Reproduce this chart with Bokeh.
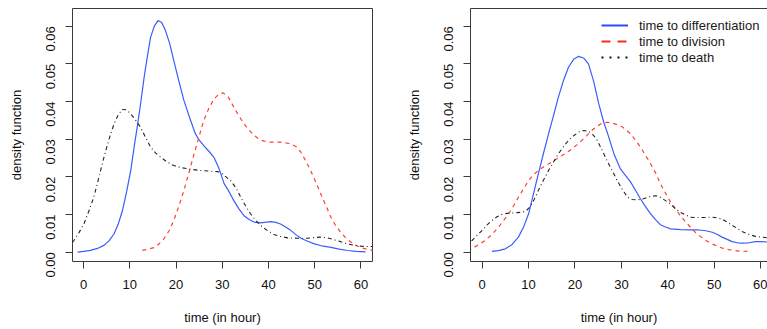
import math
from bokeh.plotting import figure
from bokeh.models import Range1d, FixedTicker, NumeralTickFormatter, Legend, LegendItem, LinearAxis
from bokeh.layouts import row
from bokeh.embed import file_html
from bokeh.resources import INLINE

# ---------------- data ----------------
x_ticks = [0, 10, 20, 30, 40, 50, 60]
y_ticks = [0.0, 0.01, 0.02, 0.03, 0.04, 0.05, 0.06]

# left panel
diff1_x = [-1.3, 0, 1.5, 3, 4.4, 5.5, 6.6, 7.5, 8.4, 9.3, 10.2, 11, 11.6, 12.4, 13.1, 13.8, 14.5, 15.3,
           16.1, 16.9, 17.7, 18.6, 19.5, 20.6, 21.7, 23, 24.2, 25.1, 26, 27.1, 28.2, 29.3, 30.4, 31.5,
           32.5, 33.6, 34.7, 35.8, 36.9, 38.3, 39.5, 40.5, 41.6, 42.6, 43.7, 44.8, 46, 47, 48.5, 49.9,
           51.5, 53.5, 55.3, 57.1, 59, 61]
diff1_y = [0, 0.0002, 0.0005, 0.001, 0.0018, 0.003, 0.0049, 0.0075, 0.011, 0.016, 0.0217, 0.0285,
           0.0332, 0.040, 0.0465, 0.052, 0.0571, 0.0600, 0.0615, 0.0610, 0.0589, 0.0555, 0.0509,
           0.0455, 0.0403, 0.0355, 0.0314, 0.0296, 0.0283, 0.0268, 0.0252, 0.0222, 0.0182, 0.0160,
           0.0137, 0.0115, 0.0097, 0.0087, 0.0080, 0.0078, 0.0080, 0.0081, 0.0079, 0.0075, 0.0067,
           0.0058, 0.0046, 0.0037, 0.0029, 0.0022, 0.0017, 0.0013, 0.0008, 0.00045, 0.0002, 0.0001]

div1_x = [12.7, 14, 15.2, 16.3, 17.4, 18.5, 19.5, 20.6, 21.7, 22.8, 23.9, 25, 26, 27.1, 28.2, 29.3,
          30.2, 31.3, 32.5, 33.6, 34.7, 35.8, 36.9, 38, 39, 40.5, 42.6, 44.8, 46, 47, 48, 49.1, 50.2,
          51.3, 52.4, 53.5, 54.5, 55.6, 56.7, 57.8, 59, 60, 61.2, 62.5, 63.5]
div1_y = [0.0005, 0.0008, 0.0012, 0.0022, 0.0036, 0.0057, 0.0084, 0.0122, 0.0164, 0.0212, 0.0261,
          0.0308, 0.035, 0.0382, 0.0407, 0.0420, 0.0423, 0.0412, 0.0385, 0.0362, 0.0341, 0.0324,
          0.031, 0.0300, 0.0295, 0.0292, 0.0292, 0.0288, 0.0280, 0.0266, 0.0244, 0.0217, 0.0187,
          0.0155, 0.0124, 0.0093, 0.0071, 0.0053, 0.0038, 0.0027, 0.0018, 0.0012, 0.0008, 0.0005,
          0.0003]

death1_x = [-3, -2.1, -1, 0.07, 1.1, 2.2, 3.3, 4.4, 5.5, 6.6, 7.5, 8.4, 9.3, 10.2, 11.3, 12.3, 13.4,
            14.5, 15.6, 16.7, 18, 19.5, 21.3, 23.2, 25.3, 27.5, 29, 30, 31.8, 33, 34, 35, 36.1, 37.2,
            38.3, 39.7, 41.2, 42.6, 44.1, 46.3, 48.4, 50, 51.3, 52.8, 54.2, 55.6, 57.1, 58.6, 60,
            61.3, 62.5, 63.5]
death1_y = [0.0018, 0.0031, 0.0052, 0.0075, 0.0108, 0.0146, 0.0198, 0.0252, 0.0300, 0.0341, 0.0365,
            0.0379, 0.0378, 0.0367, 0.0350, 0.0332, 0.0305, 0.0279, 0.0263, 0.0252, 0.0240, 0.023,
            0.0224, 0.022, 0.0217, 0.0215, 0.0214, 0.0208, 0.019, 0.0170, 0.0146, 0.0124, 0.0102,
            0.0085, 0.0071, 0.0058, 0.0047, 0.0042, 0.0038, 0.0037, 0.0037, 0.0039, 0.0040, 0.0038,
            0.0033, 0.0028, 0.0022, 0.0018, 0.0016, 0.0015, 0.0015, 0.0015]

# right panel
diff2_x = [2.1, 3.5, 5, 6.4, 7.8, 8.9, 10, 11, 12.1, 13.2, 14.3, 15.4, 16.4, 17.5, 18.6, 19.7, 20.8,
           21.9, 22.9, 24, 25.1, 26.2, 26.9, 28.4, 29.8, 31, 32, 33, 34.1, 35.2, 36.3, 37.4, 38.4,
           39.5, 40.6, 42.7, 44.9, 46.7, 48.2, 49.6, 50.7, 51.7, 52.8, 53.9, 55, 56, 57.5, 58.9,
           60.2, 61.5, 62.5]
diff2_y = [0.0002, 0.0004, 0.0009, 0.0020, 0.004, 0.0066, 0.0102, 0.0152, 0.0208, 0.0262, 0.0314,
           0.0364, 0.0411, 0.0455, 0.0491, 0.0512, 0.0520, 0.0515, 0.0500, 0.0455, 0.0395, 0.0345,
           0.032, 0.0261, 0.0221, 0.0202, 0.0186, 0.0165, 0.0142, 0.0121, 0.0102, 0.0086, 0.0073,
           0.0067, 0.0062, 0.0060, 0.0059, 0.0059, 0.0057, 0.0053, 0.0047, 0.0040, 0.0034, 0.0028,
           0.0025, 0.0024, 0.0025, 0.0028, 0.0028, 0.0027, 0.0026]

div2_x = [-3.2, -2.2, -0.8, 0.65, 2.1, 3.5, 4.6, 5.7, 6.8, 7.8, 8.9, 10, 11, 12.1, 13.5, 15, 16.1,
          17.2, 18.3, 19.3, 20.4, 21.5, 22.6, 23.6, 24.7, 25.8, 26.9, 28, 29.8, 30.9, 32, 33, 34.1,
          35.2, 36.3, 37.4, 38.4, 39.5, 40.6, 41.7, 42.7, 43.8, 44.9, 46, 47, 48.1, 49.2, 50.3,
          51.7, 53.1, 55.3, 57.5]
div2_y = [0.0005, 0.0009, 0.002, 0.0031, 0.0047, 0.0066, 0.0084, 0.0102, 0.0124, 0.0146, 0.0168,
          0.019, 0.0205, 0.0217, 0.0229, 0.0239, 0.0248, 0.0257, 0.0265, 0.0274, 0.0285, 0.0297,
          0.031, 0.0323, 0.0334, 0.0342, 0.0345, 0.0343, 0.0336, 0.0326, 0.0314, 0.0298, 0.0279,
          0.0257, 0.0235, 0.021, 0.0182, 0.0157, 0.0133, 0.0114, 0.0097, 0.0081, 0.0066, 0.0052,
          0.0042, 0.0032, 0.0024, 0.0018, 0.0011, 0.0007, 0.0003, 0.0002]

death2_x = [-3, -2.2, -1.1, 0, 1, 2.1, 3.2, 4.2, 5.3, 6.4, 7.5, 8.5, 9.4, 10.3, 11.2, 12.1, 13.2, 14.3,
            15.4, 16.4, 17.5, 18.6, 19.7, 20.8, 21.9, 23, 24, 24.8, 25.8, 26.9, 28, 29.1, 30.2, 31.3,
            32.3, 33.4, 34.8, 36.3, 37.4, 38.4, 39.5, 40.6, 41.7, 42.7, 43.8, 44.9, 46, 47.5, 49.6,
            50.7, 51.7, 52.8, 53.9, 55, 56, 57.5, 58.9, 60.2, 61.5, 62.5]
death2_y = [0.0024, 0.0031, 0.0045, 0.0058, 0.0072, 0.0084, 0.0094, 0.01, 0.0103, 0.0104, 0.0105,
            0.0106, 0.0109, 0.0120, 0.0140, 0.0164, 0.0191, 0.0217, 0.0240, 0.0261, 0.028, 0.0297,
            0.0309, 0.0319, 0.0323, 0.0321, 0.031, 0.0297, 0.0272, 0.0243, 0.0217, 0.019, 0.0167,
            0.0146, 0.0140, 0.0139, 0.0142, 0.0148, 0.015, 0.0146, 0.0137, 0.0128, 0.0115, 0.0106,
            0.0099, 0.0093, 0.0092, 0.0092, 0.0093, 0.0091, 0.0088, 0.0080, 0.0071, 0.0063, 0.0055,
            0.0047, 0.0042, 0.004, 0.0038, 0.0037]

legend_labels = ["time to differentiation", "time to division", "time to death"]
x_title = "time (in hour)"
y_title = "density function"

# ---------------- styling ----------------
FONT = "Liberation Sans"
BLUE = "#3a5cff"
RED = "#ff3f30"
BLACK = "#222222"
BOX = "#3a3a3a"
NAN = float("nan")


def make_fig(width, border_left, border_right, x_start, x_end, outline=True):
    p = figure(width=width, height=329, output_backend="svg", toolbar_location=None,
               x_range=Range1d(x_start, x_end), y_range=Range1d(-0.00247, 0.0647),
               min_border_left=border_left, min_border_right=border_right,
               min_border_top=8, min_border_bottom=68)
    p.background_fill_color = "white"
    p.border_fill_color = "white"
    p.outline_line_color = BOX if outline else None
    p.outline_line_width = 1
    p.grid.visible = False

    xa = p.xaxis[0]
    xa.ticker = FixedTicker(ticks=x_ticks)
    ya = p.yaxis[0]
    ya.ticker = FixedTicker(ticks=y_ticks)
    ya.formatter = NumeralTickFormatter(format="0.00")
    ya.major_label_orientation = math.pi / 2
    for ax in (xa, ya):
        ax.axis_line_color = None if outline else BOX
        ax.major_tick_line_color = BOX
        ax.major_tick_out = 7
        ax.major_tick_in = 0
        ax.minor_tick_line_color = None
        ax.major_label_text_font = FONT
        ax.major_label_text_font_size = "13px"
        ax.major_label_text_color = "#111111"
        ax.axis_label_text_font = FONT
        ax.axis_label_text_font_size = "13px"
        ax.axis_label_text_font_style = "normal"
        ax.axis_label_text_color = "#111111"
    xa.axis_label = x_title
    xa.major_label_standoff = 11
    xa.axis_label_standoff = 18
    ya.axis_label = y_title
    ya.major_label_standoff = 15
    ya.axis_label_standoff = 15
    return p


p1 = make_fig(380, 72, 8, -2.4, 62.5)
p1.line(diff1_x, diff1_y, line_color=BLUE, line_width=1.2)
p1.line(div1_x, div1_y, line_color=RED, line_width=1.2, line_dash="4 4")
p1.line(death1_x, death1_y, line_color=BLACK, line_width=1.1, line_dash="1 3 4 3")

p2 = make_fig(387, 90, 0, -2.52, 61.49, outline=False)
top_axis = LinearAxis(axis_line_color=BOX, major_tick_line_color=None, minor_tick_line_color=None,
                      major_label_text_font_size="0px", major_label_text_color=None,
                      major_tick_out=0, major_tick_in=0, major_label_standoff=0)
p2.add_layout(top_axis, "above")
p2.line(diff2_x, diff2_y, line_color=BLUE, line_width=1.2)
p2.line(div2_x, div2_y, line_color=RED, line_width=1.2, line_dash="4 4")
p2.line(death2_x, death2_y, line_color=BLACK, line_width=1.1, line_dash="1 3 4 3")

# legend swatches (thicker, as in the reference); no visible data of their own
lg_blue = p2.line([NAN], [NAN], line_color="#2a4cff", line_width=2)
lg_red = p2.line([NAN], [NAN], line_color="#ff2a1a", line_width=2, line_dash="9 7")
lg_black = p2.line([NAN], [NAN], line_color="#111111", line_width=2, line_dash="2 6")
legend = Legend(items=[LegendItem(label=legend_labels[0], renderers=[lg_blue]),
                       LegendItem(label=legend_labels[1], renderers=[lg_red]),
                       LegendItem(label=legend_labels[2], renderers=[lg_black])],
                location=(131, 196))
legend.border_line_color = None
legend.background_fill_alpha = 0
legend.padding = 3
legend.margin = 0
legend.spacing = 0
legend.glyph_width = 27
legend.glyph_height = 16
legend.label_height = 16
legend.label_standoff = 11
legend.label_text_font = FONT
legend.label_text_font_size = "13px"
legend.label_text_color = "#1a1a1a"
p2.add_layout(legend, "center")

layout = row(p1, p2)
open("out.html", "w").write(file_html(layout, INLINE))
